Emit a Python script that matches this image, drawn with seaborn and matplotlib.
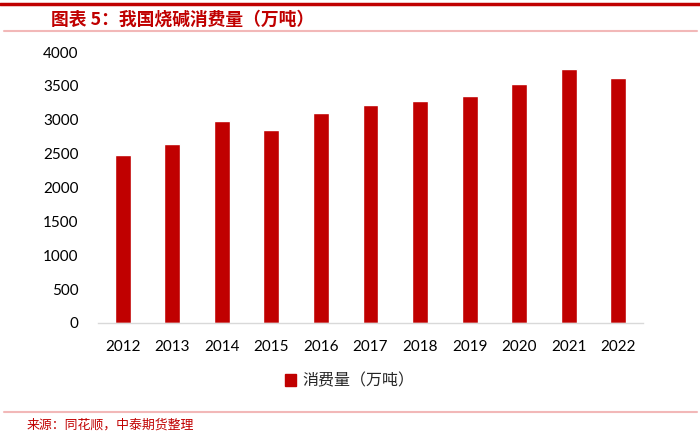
import pandas as pd
import matplotlib.pyplot as plt
import seaborn as sns
from matplotlib.lines import Line2D
from matplotlib.patches import Patch

# 数据：我国烧碱消费量（万吨）
years = ['2012', '2013', '2014', '2015', '2016', '2017', '2018', '2019', '2020', '2021', '2022']
consumption = [2480, 2642, 2977, 2844, 3095, 3213, 3272, 3355, 3528, 3745, 3612]
series_name = '消费量（万吨）'
title_text = '图表 5：我国烧碱消费量（万吨）'
source_text = '来源：同花顺，中泰期货整理'

df = pd.DataFrame({'year': years, 'value': consumption})

sns.set_style('white')
plt.rcParams['font.family'] = ['Lato', 'Noto Sans CJK SC', 'DejaVu Sans']

red = '#C00000'

fig = plt.figure(figsize=(7, 4.37), dpi=100)
ax = fig.add_axes([0.14, 0.261, 0.7786, 0.62])

sns.barplot(data=df, x='year', y='value', color=red, width=0.32,
            saturation=1, ax=ax)

ax.set_ylim(0, 4000)
ax.set_yticks(range(0, 4001, 500))
ax.set_xlim(-0.5, len(years) - 0.5)
ax.set_xlabel('')
ax.set_ylabel('')
for s in ['top', 'right', 'left']:
    ax.spines[s].set_visible(False)
ax.spines['bottom'].set_color('#d9d9d9')
ax.spines['bottom'].set_linewidth(1)
ax.tick_params(axis='both', length=0, labelsize=11, colors='black')
ax.tick_params(axis='y', pad=14)
ax.tick_params(axis='x', pad=12)

# 图例
handle = Patch(facecolor=red, edgecolor=red)
fig.legend([handle], [series_name], loc='center', bbox_to_anchor=(0.5, 0.128),
           frameon=False, handlelength=0.7, handleheight=0.7, handletextpad=0.4,
           prop={'family': ['Noto Sans CJK SC'], 'size': 11.5})

# 标题和装饰线
fig.add_artist(Line2D([0.0, 1.0], [0.99, 0.99], color=red, lw=2.5))
fig.text(0.073, 0.955, title_text, color=red, fontsize=12.8, fontweight='bold',
         va='center', ha='left', family=['Noto Sans CJK SC', 'DejaVu Sans'])
fig.add_artist(Line2D([0.005, 0.995], [0.929, 0.929], color='#F2B8B8', lw=1.5))

# 底部来源
fig.add_artist(Line2D([0.005, 0.995], [0.057, 0.057], color='#F2B8B8', lw=1.5))
fig.text(0.038, 0.027, source_text, color=red, fontsize=9.3, va='center', ha='left',
         family=['Noto Sans CJK SC', 'DejaVu Sans'])

fig.savefig('out.png', dpi=100)
